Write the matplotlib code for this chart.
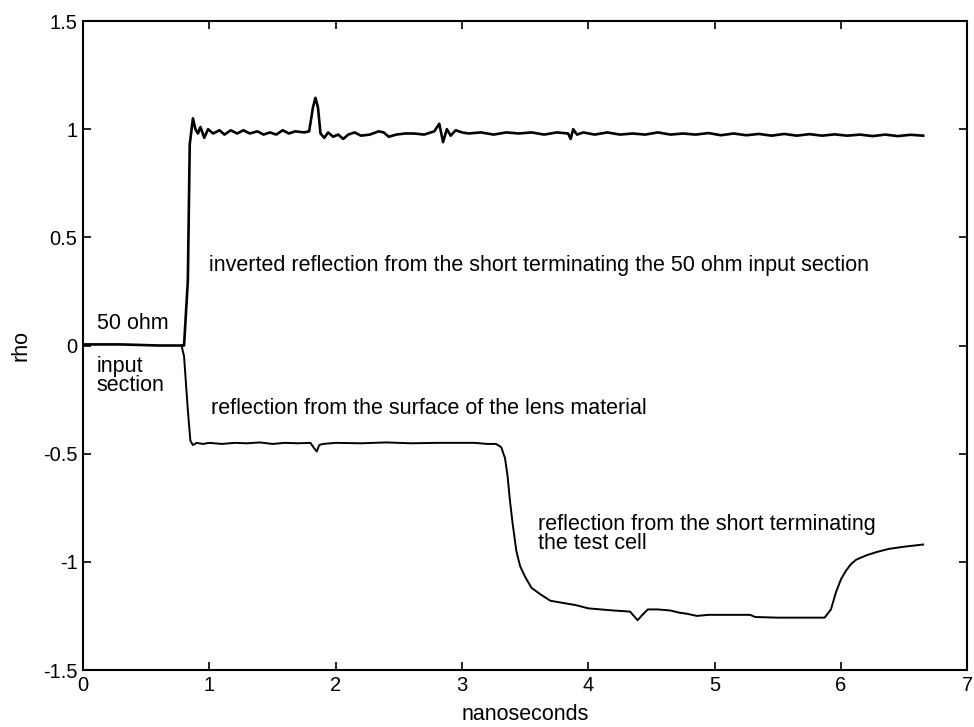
import numpy as np
import matplotlib
matplotlib.use("Agg")
import matplotlib.pyplot as plt

plt.rcParams['font.family'] = ['Liberation Sans', 'DejaVu Sans']
plt.rcParams['axes.unicode_minus'] = False

# upper trace: inverted reflection from the short (ns, rho)
t_upper = [0.0, 0.3, 0.6, 0.80, 0.83, 0.845, 0.87, 0.89, 0.91, 0.93, 0.96, 0.99,
           1.03, 1.08, 1.12, 1.17, 1.22, 1.27, 1.32, 1.38, 1.43, 1.48, 1.53, 1.58,
           1.63, 1.68, 1.75, 1.79, 1.82, 1.84, 1.86, 1.88, 1.91, 1.94, 1.98, 2.02,
           2.06, 2.10, 2.15, 2.20, 2.27, 2.34, 2.38, 2.42, 2.48, 2.55, 2.62, 2.70,
           2.78, 2.82, 2.85, 2.88, 2.91, 2.95, 3.0, 3.05, 3.15, 3.25, 3.35, 3.45,
           3.55, 3.65, 3.75, 3.84, 3.86, 3.88, 3.91, 3.96, 4.05, 4.15, 4.25, 4.35,
           4.45, 4.55, 4.65, 4.75, 4.85, 4.95, 5.05, 5.15, 5.25, 5.35, 5.45, 5.55,
           5.65, 5.75, 5.85, 5.95, 6.05, 6.15, 6.25, 6.35, 6.45, 6.55, 6.65]
rho_upper = [0.005, 0.005, 0.0, 0.0, 0.3, 0.93, 1.05, 1.0, 0.98, 1.01, 0.96, 1.0,
             0.98, 0.995, 0.975, 0.995, 0.98, 0.995, 0.98, 0.99, 0.975, 0.985, 0.975, 0.995,
             0.98, 0.99, 0.985, 0.99, 1.10, 1.145, 1.10, 0.98, 0.96, 0.985, 0.965, 0.975,
             0.955, 0.975, 0.985, 0.97, 0.975, 0.99, 0.985, 0.965, 0.975, 0.98, 0.98, 0.975,
             0.99, 1.025, 0.94, 1.0, 0.97, 0.995, 0.985, 0.98, 0.985, 0.975, 0.985, 0.98,
             0.985, 0.975, 0.985, 0.98, 0.955, 1.0, 0.975, 0.985, 0.975, 0.985, 0.975, 0.98,
             0.975, 0.985, 0.975, 0.98, 0.975, 0.982, 0.972, 0.98, 0.972, 0.978, 0.97, 0.978,
             0.97, 0.977, 0.97, 0.976, 0.97, 0.975, 0.968, 0.975, 0.968, 0.974, 0.97]

# lower trace: reflection from the lens surface and from the short of the test cell
t_lower = [0.78, 0.80, 0.83, 0.85, 0.87, 0.90, 0.95, 1.0, 1.1, 1.2, 1.3, 1.4,
           1.5, 1.6, 1.7, 1.8, 1.83, 1.85, 1.87, 1.9, 2.0, 2.2, 2.4, 2.6,
           2.8, 3.0, 3.1, 3.2, 3.27, 3.31, 3.34, 3.36, 3.38, 3.40, 3.43, 3.46,
           3.50, 3.55, 3.62, 3.70, 3.80, 3.90, 4.0, 4.1, 4.2, 4.33, 4.36, 4.39,
           4.42, 4.47, 4.55, 4.65, 4.72, 4.78, 4.86, 4.95, 5.1, 5.28, 5.32, 5.5,
           5.7, 5.87, 5.92, 5.96, 6.0, 6.04, 6.08, 6.12, 6.2, 6.28, 6.38, 6.5, 6.65]
rho_lower = [0.0, -0.05, -0.30, -0.44, -0.46, -0.45, -0.455, -0.45, -0.455, -0.45, -0.452, -0.448,
             -0.455, -0.45, -0.452, -0.45, -0.475, -0.49, -0.46, -0.455, -0.45, -0.452, -0.448, -0.452,
             -0.45, -0.45, -0.45, -0.455, -0.455, -0.47, -0.52, -0.60, -0.72, -0.82, -0.95, -1.02,
             -1.07, -1.12, -1.15, -1.18, -1.19, -1.20, -1.215, -1.22, -1.225, -1.23, -1.25, -1.27,
             -1.25, -1.22, -1.22, -1.225, -1.235, -1.24, -1.25, -1.245, -1.245, -1.245, -1.255, -1.258,
             -1.258, -1.258, -1.22, -1.14, -1.08, -1.04, -1.01, -0.99, -0.97, -0.955, -0.94, -0.93, -0.92]

x_ticks = [0, 1, 2, 3, 4, 5, 6, 7]
y_ticks = [-1.5, -1, -0.5, 0, 0.5, 1, 1.5]
y_ticklabels = ["-1.5", "-1", "-0.5", "0", "0.5", "1", "1.5"]

fig = plt.figure(figsize=(9.74, 7.27), dpi=100)
ax = fig.add_axes([0.0852, 0.0784, 0.908, 0.8927])

ax.plot(t_upper, rho_upper, color='black', lw=1.9)
ax.plot(t_lower, rho_lower, color='black', lw=1.4)

ax.set_xlim(0, 7)
ax.set_ylim(-1.5, 1.5)
ax.set_xticks(x_ticks)
ax.set_yticks(y_ticks)
ax.set_yticklabels(y_ticklabels)
ax.tick_params(direction='in', top=True, right=True, length=6, width=1.2,
               labelsize=14.5, pad=4)
for s in ax.spines.values():
    s.set_linewidth(1.5)

ax.set_xlabel("nanoseconds", fontsize=15.5)
ax.xaxis.set_label_coords(0.5, -0.052)
ax.set_ylabel("rho", fontsize=15.5)
ax.yaxis.set_label_coords(-0.058, 0.5)

fs = 15.5
ax.text(1.0, 0.372, "inverted reflection from the short terminating the 50 ohm input section",
        fontsize=fs, va='center')
ax.text(0.11, 0.104, "50 ohm", fontsize=fs, va='center')
ax.text(0.11, -0.141, "input\nsection", fontsize=fs, va='center', linespacing=0.9)
ax.text(1.01, -0.293, "reflection from the surface of the lens material", fontsize=fs, va='center')
ax.text(3.6, -0.87, "reflection from the short terminating\nthe test cell",
        fontsize=fs, va='center', linespacing=0.9)

fig.savefig("out.png", dpi=100)
